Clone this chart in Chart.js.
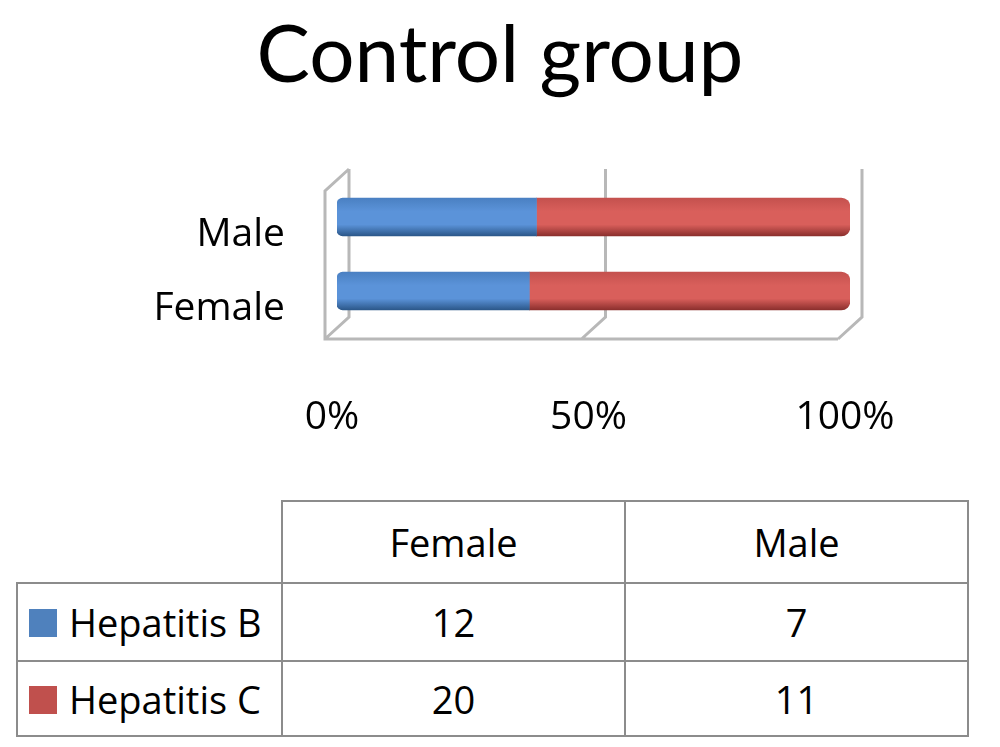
<!DOCTYPE html>
<html>
<head>
<meta charset="utf-8">
<script src="https://cdn.jsdelivr.net/npm/chart.js@4/dist/chart.umd.min.js"></script>
<style>
  body { margin: 0; background: #fff; font-family: "Open Sans", sans-serif; }
  #wrap { position: absolute; left: 0; top: 0; width: 1000px; height: 460px; }
  #dataTable {
    position: absolute; left: 16px; top: 500px;
    border-collapse: collapse; font-size: 38px; color: #000;
  }
  #dataTable td { border: 2px solid #8c8c8c; text-align: center; padding: 0; }
  #dataTable td.corner { border-top: none; border-left: none; }
  #dataTable td.series { text-align: left; padding-left: 11px; white-space: nowrap; }
  .key { display: inline-block; width: 28px; height: 28px; margin-right: 12px; vertical-align: 0px; }
</style>
</head>
<body>
<div id="wrap"><canvas id="chart"></canvas></div>
<table id="dataTable"></table>
<script>
// Data
const categories = ['Female', 'Male'];
const seriesNames = ['Hepatitis B', 'Hepatitis C'];
const hepatitisB = [12, 7];
const hepatitisC = [20, 11];
const tickLabels = ['0%', '50%', '100%'];

const seriesColors = ['#4F81BD', '#C0504D'];

// percentages for the 100% stacked bars
const totals = categories.map((c, i) => hepatitisB[i] + hepatitisC[i]);
const pctB = hepatitisB.map((v, i) => v / totals[i] * 100);
const pctC = hepatitisC.map((v, i) => v / totals[i] * 100);

// cylinder-like shading for each bar
function barGradient(ctx, stops) {
  const chart = ctx.chart;
  const yScale = chart.scales.y;
  if (!chart.chartArea || !yScale) return stops[1];
  const yc = yScale.getPixelForValue(ctx.dataIndex);
  const g = chart.ctx.createLinearGradient(0, yc - 19, 0, yc + 19);
  g.addColorStop(0, stops[0]);
  g.addColorStop(0.35, stops[1]);
  g.addColorStop(0.7, stops[1]);
  g.addColorStop(1, stops[2]);
  return g;
}

// 3D frame: back wall, side wall and floor
const frame3d = {
  id: 'frame3d',
  beforeDatasetsDraw(chart) {
    const { ctx, chartArea: a, scales: { x } } = chart;
    const dx = 12, dy = 11;
    ctx.save();
    ctx.strokeStyle = '#b8b8b8';
    ctx.lineWidth = 3;
    ctx.beginPath();
    [0, 50, 100].forEach(v => {
      const px = x.getPixelForValue(v);
      ctx.moveTo(px + dx, a.top - dy);
      ctx.lineTo(px + dx, a.bottom - dy);
      ctx.lineTo(px - dx, a.bottom + dy);
    });
    // side wall
    const x0 = x.getPixelForValue(0);
    const x1 = x.getPixelForValue(100);
    ctx.moveTo(x0 + dx, a.top - dy);
    ctx.lineTo(x0 - dx, a.top + dy);
    ctx.lineTo(x0 - dx, a.bottom + dy);
    // floor front edge
    ctx.lineTo(x1 - dx, a.bottom + dy);
    ctx.stroke();
    ctx.restore();
  }
};

new Chart(document.getElementById('chart'), {
  type: 'bar',
  data: {
    labels: categories,
    datasets: [
      {
        label: seriesNames[0],
        data: pctB,
        backgroundColor: ctx => barGradient(ctx, ['#4a80c2', '#5b93d9', '#2b5789']),
        barThickness: 38,
        borderSkipped: false,
        borderRadius: { topLeft: 6, bottomLeft: 6, topRight: 0, bottomRight: 0 }
      },
      {
        label: seriesNames[1],
        data: pctC,
        backgroundColor: ctx => barGradient(ctx, ['#c4514e', '#d95f5b', '#8b2f2d']),
        barThickness: 38,
        borderSkipped: false,
        borderRadius: { topLeft: 0, bottomLeft: 0, topRight: 9, bottomRight: 9 }
      }
    ]
  },
  options: {
    indexAxis: 'y',
    responsive: true,
    maintainAspectRatio: false,
    animation: false,
    layout: { padding: 0 },
    scales: {
      x: {
        stacked: true,
        min: 0,
        max: 100,
        border: { display: false },
        grid: { display: false, drawTicks: false },
        ticks: {
          stepSize: 50,
          padding: 66,
          labelOffset: -5,
          color: '#000',
          font: { family: 'Open Sans', size: 39 },
          callback: (value, i) => tickLabels[i]
        },
        afterFit: scale => { scale.height = 132; }
      },
      y: {
        stacked: true,
        reverse: true,
        border: { display: false },
        grid: { display: false, drawTicks: false },
        ticks: {
          padding: 52,
          labelOffset: 18,
          color: '#000',
          font: { family: 'Open Sans', size: 39 }
        },
        afterFit: scale => { scale.width = 337; }
      },
      // empty strip on the right so the title stays centred on the page
      yRight: {
        type: 'category',
        position: 'right',
        grid: { display: false, drawTicks: false },
        border: { display: false },
        ticks: { display: false },
        afterFit: scale => { scale.width = 150; }
      }
    },
    plugins: {
      legend: { display: false },
      tooltip: { enabled: false },
      title: {
        display: true,
        text: 'Control group',
        color: '#000',
        font: { family: 'Lato', size: 80, weight: 'normal' },
        padding: { top: 8, bottom: 76 }
      }
    }
  },
  plugins: [frame3d]
});

// Data table under the chart
const table = document.getElementById('dataTable');
let html = '<tr style="height:82px"><td class="corner" style="width:264px"></td>';
categories.forEach(c => { html += `<td style="width:341px">${c}</td>`; });
html += '</tr>';
[hepatitisB, hepatitisC].forEach((values, s) => {
  html += `<tr style="height:${s === 0 ? 78 : 75}px"><td class="series">` +
    `<span class="key" style="background:${seriesColors[s]}"></span>${seriesNames[s]}</td>`;
  values.forEach(v => { html += `<td>${v}</td>`; });
  html += '</tr>';
});
table.innerHTML = html;
</script>
</body>
</html>
